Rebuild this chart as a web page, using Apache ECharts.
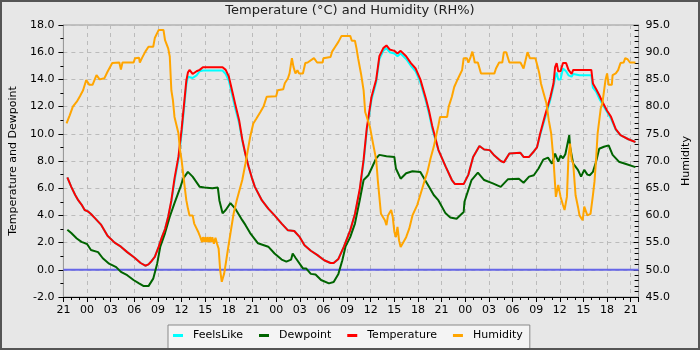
<!DOCTYPE html>
<html><head><meta charset="utf-8">
<script src="https://cdn.jsdelivr.net/npm/echarts@6/dist/echarts.min.js"></script>
<style>html,body{margin:0;padding:0;background:#e7e7e7}#c{width:700px;height:350px}</style>
</head><body><div id="c"></div><script>
// x values: hours since 21:00 on the first day
const titleText = 'Temperature (°C) and Humidity (RH%)';
const seriesNames = ['FeelsLike', 'Dewpoint', 'Temperature', 'Humidity'];
const startClockHour = 21;
const xRange = [0, 73];
const tempRange = [-2, 18];
const humRange = [45, 95];

const temperature = [
[0.5,6.8],[1.0,6.1],[1.5,5.5],[1.9,5.1],[2.3,4.8],[2.7,4.4],[3.1,4.3],[3.5,4.1],[4.0,3.8],[4.8,3.3],[5.6,2.5],[6.5,2.0],[7.3,1.7],[8.1,1.3],[9.0,0.9],[9.8,0.5],[10.4,0.3],[10.8,0.4],[11.2,0.65],[11.6,0.95],[12.1,1.7],[12.5,2.4],[12.9,3.0],[13.3,3.9],[13.7,5.1],[14.1,6.7],[14.6,8.3],[15.0,10.3],[15.4,12.7],[15.6,13.9],[15.8,14.5],[16.0,14.7],[16.4,14.4],[16.9,14.6],[17.3,14.7],[17.7,14.9],[20.2,14.9],[20.6,14.7],[21.0,14.2],[21.4,13.2],[21.8,12.2],[22.3,11.0],[22.7,9.6],[23.1,8.5],[23.5,7.6],[23.9,6.8],[24.3,6.1],[25.2,5.1],[26.0,4.5],[26.8,4.0],[27.7,3.4],[28.5,2.9],[29.3,2.85],[30.0,2.4],[30.6,1.8],[31.4,1.4],[32.2,1.1],[33.1,0.7],[33.9,0.5],[34.3,0.5],[34.9,0.8],[35.6,1.7],[36.4,2.9],[37.0,4.1],[37.6,5.9],[38.1,8.1],[38.5,10.4],[39.1,12.7],[39.7,14.0],[40.1,15.7],[40.6,16.3],[41.0,16.5],[41.4,16.2],[42.0,16.1],[42.4,15.9],[42.8,16.1],[43.5,15.7],[44.1,15.2],[44.7,14.8],[45.3,14.0],[46.0,12.6],[46.4,11.7],[46.8,10.6],[47.6,8.8],[48.5,7.6],[49.3,6.6],[49.7,6.3],[50.8,6.3],[51.4,7.0],[52.0,8.3],[52.8,9.1],[53.4,8.85],[54.1,8.8],[54.7,8.4],[55.5,8.0],[55.9,7.9],[56.6,8.55],[58.0,8.6],[58.4,8.3],[59.1,8.3],[59.7,8.7],[60.1,9.0],[60.5,10.0],[61.1,11.3],[61.8,12.7],[62.2,13.7],[62.4,14.9],[62.6,15.2],[62.8,14.6],[63.1,14.6],[63.4,15.2],[63.8,15.2],[64.1,14.7],[64.5,14.4],[64.7,14.7],[65.5,14.7],[67.0,14.7],[67.2,13.7],[67.6,13.3],[68.0,12.85],[68.4,12.35],[69.0,11.7],[69.5,11.25],[70.1,10.35],[70.7,9.9],[71.7,9.6],[72.6,9.4]
];

const feelsLike = [
[0.5,6.8],[1.0,6.1],[1.5,5.5],[1.9,5.1],[2.3,4.8],[2.7,4.4],[3.1,4.3],[3.5,4.1],[4.0,3.8],[4.8,3.3],[5.6,2.5],[6.5,2.0],[7.3,1.7],[8.1,1.3],[9.0,0.9],[9.8,0.5],[10.4,0.3],[10.8,0.4],[11.2,0.65],[11.6,0.95],[12.1,1.7],[12.5,2.4],[12.9,3.0],[13.3,3.9],[13.7,5.0],[14.1,6.5],[14.6,8.1],[15.0,10.0],[15.4,12.4],[15.6,13.6],[15.8,14.2],[16.0,14.3],[16.4,14.1],[16.9,14.3],[17.3,14.6],[17.7,14.65],[20.2,14.65],[20.6,14.4],[21.0,13.9],[21.4,12.9],[21.8,11.9],[22.3,10.8],[22.7,9.5],[23.1,8.5],[23.5,7.6],[23.9,6.8],[24.3,6.1],[25.2,5.1],[26.0,4.5],[26.8,4.0],[27.7,3.4],[28.5,2.9],[29.3,2.85],[30.0,2.4],[30.6,1.8],[31.4,1.4],[32.2,1.1],[33.1,0.7],[33.9,0.5],[34.3,0.5],[34.9,0.8],[35.6,1.7],[36.4,2.9],[37.0,4.1],[37.6,5.8],[38.1,7.9],[38.5,10.2],[39.1,12.5],[39.7,13.8],[40.1,15.5],[40.6,16.1],[41.0,16.3],[41.4,16.0],[42.0,15.9],[42.4,15.7],[42.8,15.9],[43.5,15.5],[44.1,15.0],[44.7,14.6],[45.3,13.8],[46.0,12.4],[46.4,11.5],[46.8,10.4],[47.6,8.8],[48.5,7.6],[49.3,6.6],[49.7,6.3],[50.8,6.3],[51.4,7.0],[52.0,8.3],[52.8,9.1],[53.4,8.85],[54.1,8.8],[54.7,8.4],[55.5,8.0],[55.9,7.9],[56.6,8.55],[58.0,8.6],[58.4,8.3],[59.1,8.3],[59.7,8.7],[60.1,9.0],[60.5,9.9],[61.1,11.1],[61.8,12.5],[62.2,13.5],[62.4,14.1],[62.6,14.5],[62.8,14.0],[63.1,14.0],[63.4,14.8],[63.8,14.6],[64.1,14.3],[64.5,14.2],[64.7,14.4],[65.5,14.3],[67.0,14.3],[67.2,13.4],[67.6,13.1],[68.0,12.6],[68.4,12.2],[69.0,11.6],[69.5,11.1],[70.1,10.3],[70.7,9.9],[71.7,9.6],[72.6,9.4]
];

const dewpoint = [
[0.5,2.95],[1.0,2.7],[1.7,2.3],[2.3,2.05],[3.0,1.9],[3.5,1.45],[4.4,1.3],[5.0,0.85],[5.8,0.45],[6.7,0.2],[7.3,-0.15],[8.1,-0.4],[8.9,-0.75],[9.6,-1.0],[10.2,-1.2],[10.8,-1.2],[11.4,-0.65],[11.9,0.45],[12.3,1.7],[12.9,2.7],[13.5,3.9],[14.1,4.9],[14.8,6.0],[15.2,6.7],[15.8,7.2],[16.4,6.85],[17.3,6.1],[17.9,6.05],[18.9,6.0],[19.6,6.05],[19.8,5.1],[20.2,4.15],[20.6,4.4],[21.2,4.9],[21.8,4.5],[22.7,3.65],[23.1,3.3],[23.7,2.7],[24.7,1.95],[26.0,1.7],[26.8,1.2],[27.7,0.75],[28.3,0.6],[28.9,0.75],[29.1,1.2],[29.5,0.85],[30.4,0.1],[30.8,0.1],[31.4,-0.3],[32.0,-0.35],[32.7,-0.75],[33.7,-1.0],[34.3,-0.9],[34.9,-0.3],[35.4,0.7],[35.8,1.7],[36.4,2.4],[37.0,3.4],[37.6,5.1],[38.1,6.6],[38.7,6.95],[39.1,7.45],[39.7,8.2],[40.1,8.45],[41.0,8.35],[42.0,8.3],[42.2,7.45],[42.8,6.7],[43.5,7.1],[44.3,7.25],[45.3,7.2],[45.8,6.7],[46.4,6.1],[47.0,5.5],[47.6,5.1],[48.5,4.15],[49.1,3.85],[49.9,3.75],[50.8,4.25],[50.9,5.0],[51.8,6.6],[52.6,7.15],[53.4,6.6],[54.5,6.35],[55.5,6.1],[56.4,6.65],[57.8,6.7],[58.4,6.4],[59.1,6.85],[59.7,6.95],[60.3,7.45],[60.9,8.1],[61.5,8.25],[62.0,7.8],[62.4,8.55],[62.8,7.95],[63.1,8.4],[63.4,8.2],[63.7,8.5],[63.9,8.55],[64.2,9.9],[64.3,9.05],[64.7,7.8],[65.3,7.35],[65.7,6.85],[66.1,7.35],[66.5,7.0],[66.8,6.95],[67.2,7.2],[67.6,7.95],[68.0,8.9],[68.6,9.05],[69.2,9.15],[69.7,8.45],[70.5,7.95],[71.3,7.8],[72.6,7.55]
];

const humidity = [
[0.4,76.9],[0.8,78.4],[1.2,80.0],[1.7,80.9],[2.1,81.9],[2.5,83.0],[2.9,84.9],[3.1,85.2],[3.3,84.0],[3.7,84.0],[4.2,85.8],[4.4,86.1],[4.6,85.0],[5.2,85.2],[5.6,86.4],[6.2,88.0],[7.1,88.1],[7.3,86.8],[7.5,88.1],[8.9,88.1],[9.1,88.9],[9.6,89.0],[9.7,88.1],[10.0,89.0],[10.4,90.1],[10.8,91.0],[11.4,91.0],[11.6,92.6],[12.1,94.1],[12.7,94.1],[12.9,92.2],[13.3,90.7],[13.5,89.2],[13.7,83.0],[13.9,81.2],[14.1,78.1],[14.6,75.1],[14.8,72.0],[15.0,70.2],[15.2,67.7],[15.4,65.2],[15.6,62.8],[15.8,61.3],[16.0,60.0],[16.4,60.0],[16.6,58.5],[17.1,57.0],[17.3,56.3],[17.5,56.0],[17.6,55.1],[17.7,56.0],[17.9,55.1],[18.0,56.0],[18.2,55.1],[18.3,56.0],[18.5,55.1],[18.6,56.0],[18.8,55.1],[18.9,56.0],[19.1,54.8],[19.3,55.9],[19.5,54.8],[19.7,53.9],[19.9,49.9],[20.1,47.8],[20.4,49.3],[20.6,51.1],[20.8,53.0],[21.2,56.7],[21.6,60.3],[22.0,62.8],[22.7,66.5],[23.1,69.5],[23.7,74.4],[24.1,76.9],[24.5,77.8],[25.0,79.0],[25.4,80.0],[25.8,81.8],[27.0,81.9],[27.2,83.0],[27.9,83.2],[28.1,84.3],[28.5,85.2],[28.7,86.1],[29.0,88.9],[29.2,87.3],[29.45,86.1],[29.7,86.7],[29.9,86.1],[30.4,86.1],[30.7,88.0],[31.0,88.1],[31.8,88.9],[32.2,88.1],[32.9,88.1],[33.0,88.9],[33.9,89.1],[34.1,90.1],[34.5,91.0],[34.9,91.9],[35.3,93.0],[36.4,93.0],[36.6,92.1],[37.0,92.1],[37.2,90.7],[37.4,88.9],[37.8,85.8],[38.1,83.0],[38.3,79.0],[38.9,76.3],[39.3,73.2],[39.7,70.2],[39.9,66.5],[40.1,63.4],[40.3,60.3],[40.8,59.1],[41.0,58.2],[41.2,60.0],[41.6,61.0],[41.8,59.7],[42.0,57.0],[42.2,56.0],[42.4,57.9],[42.6,55.4],[42.8,54.2],[43.0,54.2],[43.5,56.0],[43.9,57.6],[44.3,60.0],[44.9,61.9],[45.3,63.8],[45.8,66.2],[46.2,68.0],[46.6,70.5],[47.0,72.6],[47.6,76.6],[47.8,78.1],[48.7,78.1],[48.9,80.0],[49.3,81.8],[49.6,83.6],[50.0,84.9],[50.3,85.8],[50.6,86.7],[50.8,88.9],[51.2,88.9],[51.4,88.1],[51.7,89.2],[51.9,90.1],[52.1,88.9],[52.2,88.1],[52.6,88.1],[53.0,86.1],[54.7,86.1],[54.9,87.0],[55.3,88.1],[55.7,88.1],[55.9,90.0],[56.2,90.0],[56.6,88.1],[58.0,88.1],[58.4,87.0],[58.6,88.2],[58.9,90.0],[59.2,88.9],[59.9,88.9],[60.2,87.3],[60.4,86.1],[60.6,84.3],[60.9,82.7],[61.3,80.6],[61.6,77.5],[61.9,75.1],[62.2,70.2],[62.5,63.4],[62.8,65.6],[63.1,63.4],[63.4,61.9],[63.6,61.0],[63.9,63.4],[64.1,70.8],[64.3,73.2],[64.5,70.2],[64.7,69.5],[65.0,63.7],[65.3,61.6],[65.5,60.0],[65.9,59.1],[66.1,61.6],[66.5,60.0],[66.9,60.3],[67.2,63.7],[67.4,66.2],[67.6,70.2],[67.8,75.1],[68.2,79.7],[68.4,80.6],[68.8,84.9],[69.0,86.1],[69.2,84.0],[69.6,84.0],[69.7,85.8],[70.1,86.1],[70.4,86.7],[70.7,88.0],[71.1,88.1],[71.3,88.9],[71.6,88.7],[71.9,88.1],[72.6,88.1]
];

const zeroLine = [[0, 0], [73, 0]];

const colors = { FeelsLike: '#00ffff', Dewpoint: '#006400', Temperature: '#ff0000', Humidity: '#ffa500' };
const FONT = 'DejaVu Sans';

function hourLabel(v) {
  if (Math.abs(v - Math.round(v)) > 1e-6 || Math.round(v) % 3 !== 0) return '';
  const h = (startClockHour + Math.round(v)) % 24;
  return (h < 10 ? '0' : '') + h;
}

const chart = echarts.init(document.getElementById('c'), null, { renderer: 'canvas' });
const lineSeries = (name, data, yIndex) => ({
  name, type: 'line', data, yAxisIndex: yIndex, showSymbol: false, symbol: 'none',
  lineStyle: { width: 2, color: colors[name] }, itemStyle: { color: colors[name] },
  animation: false, z: 3
});

chart.setOption({
  animation: false,
  backgroundColor: '#e7e7e7',
  textStyle: { fontFamily: FONT },
  title: {
    text: titleText, left: 'center', top: 4, padding: 0,
    textStyle: { fontFamily: FONT, fontSize: 13, fontWeight: 'normal', color: '#222' }
  },
  grid: { left: 55, top: 25, width: 585, height: 272, show: true, borderColor: '#999', borderWidth: 1, backgroundColor: 'transparent' },
  legend: {
    data: seriesNames, left: 168, top: 325, padding: [5, 7, 10, 5],
    backgroundColor: '#f4f4f4', borderColor: '#888', borderWidth: 1,
    icon: 'rect', itemWidth: 10, itemHeight: 3, itemGap: 16,
    textStyle: { fontFamily: FONT, fontSize: 11, color: '#000', padding: [0, 0, 0, 5] }
  },
  xAxis: {
    type: 'value', min: xRange[0], max: xRange[1], interval: 3,
    axisLine: { show: true, onZero: false, lineStyle: { color: '#000', width: 1 } },
    axisTick: { show: true, length: 5, lineStyle: { color: '#000' } },
    minorTick: { show: true, splitNumber: 3, length: 3, lineStyle: { color: '#000' } },
    axisLabel: { formatter: hourLabel, fontSize: 11, color: '#000', margin: 8, fontFamily: FONT, showMaxLabel: false },
    splitLine: { show: true, lineStyle: { color: '#bbb', type: [4, 4], width: 1 } }
  },
  yAxis: [{
    type: 'value', min: tempRange[0], max: tempRange[1], interval: 2, position: 'left',
    name: 'Temperature and Dewpoint', nameLocation: 'middle', nameGap: 34, nameRotate: 90,
    nameTextStyle: { fontFamily: FONT, fontSize: 11, color: '#000' },
    axisLine: { show: true, onZero: false, lineStyle: { color: '#999' } },
    axisTick: { show: true, length: 5, lineStyle: { color: '#000' } },
    minorTick: { show: true, splitNumber: 2, length: 3, lineStyle: { color: '#000' } },
    axisLabel: { formatter: v => v.toFixed(1), fontSize: 11, color: '#000', margin: 9, fontFamily: FONT },
    splitLine: { show: true, lineStyle: { color: '#bbb', type: [4, 4], width: 1 } }
  }, {
    type: 'value', min: humRange[0], max: humRange[1], interval: 5, position: 'right',
    name: 'Humidity', nameLocation: 'middle', nameGap: 38, nameRotate: 90,
    nameTextStyle: { fontFamily: FONT, fontSize: 11, color: '#000' },
    axisLine: { show: true, onZero: false, lineStyle: { color: '#999' } },
    axisTick: { show: true, inside: true, length: 5, lineStyle: { color: '#000' } },
    minorTick: { show: true, splitNumber: 5, length: 4, lineStyle: { color: '#000' } },
    axisLabel: { formatter: v => v.toFixed(1), fontSize: 11, color: '#000', margin: 7, fontFamily: FONT },
    splitLine: { show: false }
  }],
  graphic: [{
    type: 'rect', shape: { x: 1, y: 1, width: 698, height: 348 },
    style: { fill: 'none', stroke: '#555', lineWidth: 2 }, z: 100, silent: true
  }],
  series: [
    { name: 'zero', type: 'line', data: zeroLine, yAxisIndex: 0, showSymbol: false, symbol: 'none',
      lineStyle: { width: 2, color: '#6666e8' }, z: 2, silent: true, animation: false },
    lineSeries('FeelsLike', feelsLike, 0),
    lineSeries('Dewpoint', dewpoint, 0),
    lineSeries('Temperature', temperature, 0),
    lineSeries('Humidity', humidity, 1)
  ]
});
</script></body></html>
